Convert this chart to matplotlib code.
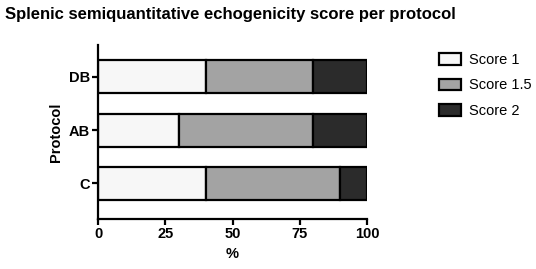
import matplotlib
matplotlib.use("Agg")
import matplotlib.pyplot as plt
import numpy as np

plt.rcParams['font.family'] = ['Liberation Sans', 'DejaVu Sans']

protocols = ["C", "AB", "DB"]
score1 = [40, 30, 40]
score15 = [50, 50, 40]
score2 = [10, 20, 20]
series_labels = ["Score 1", "Score 1.5", "Score 2"]
colors = ["#f7f7f7", "#a3a3a3", "#2b2b2b"]

fig = plt.figure(figsize=(5.36, 2.69), dpi=100)
ax = fig.add_axes([0.183, 0.186, 0.502, 0.647])

y = np.arange(len(protocols))
left = np.zeros(len(protocols))
for vals, lab, c in zip([score1, score15, score2], series_labels, colors):
    ax.barh(y, vals, left=left, height=0.62, color=c, edgecolor="black",
            linewidth=1.6, label=lab)
    left += np.array(vals)

ax.set_xlim(0, 100)
ax.set_ylim(-0.666, 2.6)
ax.set_xticks([0, 25, 50, 75, 100])
ax.set_yticks(y)
ax.set_yticklabels(protocols)
for s in ["top", "right"]:
    ax.spines[s].set_visible(False)
for s in ["left", "bottom"]:
    ax.spines[s].set_linewidth(1.6)
ax.tick_params(width=1.6, length=4, labelsize=10.5, pad=2)
for t in ax.get_xticklabels() + ax.get_yticklabels():
    t.set_fontweight("bold")
ax.set_xlabel("%", fontsize=10.5, fontweight="bold")
ax.set_ylabel("Protocol", fontsize=10.5, fontweight="bold")

fig.text(0.01, 0.945, "Splenic semiquantitative echogenicity score per protocol",
         fontsize=12, fontweight="bold", va="center", ha="left")

ax.legend(loc="upper left", bbox_to_anchor=(1.22, 1.03), frameon=False,
          fontsize=10.5, handlelength=1.5, handleheight=0.85, labelspacing=0.8,
          handletextpad=0.55)

fig.savefig("out.png", dpi=100)
